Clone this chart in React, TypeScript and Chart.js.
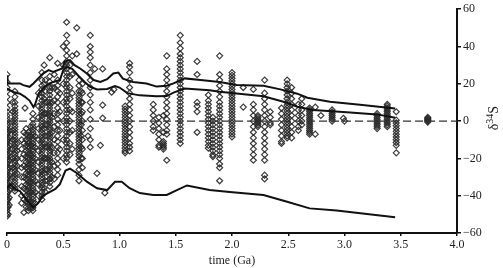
import React, { useEffect, useRef } from 'react';
import { Chart, registerables } from 'chart.js';

Chart.register(...registerables);

// x-axis ticks (Ga) and y-axis ticks (permil)
const xTickValues = [0, 0.5, 1.0, 1.5, 2.0, 2.5, 3.0, 3.5, 4.0];
const yTickValues = [-60, -40, -20, 0, 20, 40, 60];

// Measured δ34S values, grouped in columns by age (Ga)
const columnAges = [
  0.0, 0.01, 0.02, 0.05, 0.07, 0.09, 0.13, 0.15, 0.17, 0.19, 0.21, 0.23, 0.25, 0.28, 0.31, 0.33, 0.34,
  0.36, 0.38, 0.4, 0.42, 0.45, 0.47, 0.5, 0.53, 0.56, 0.58, 0.62, 0.64, 0.66, 0.67, 0.74,
  1.05, 1.09, 1.3, 1.35, 1.39, 1.42, 1.54,
  1.69, 1.79, 1.83, 1.89, 2.0, 2.19, 2.23, 2.29, 2.34, 2.44, 2.49, 2.53, 2.59,
  2.62, 2.69, 2.89, 3.29, 3.38, 3.46, 3.74,
];
const columnValues = [
  [25, 21, 18, 16, 13, 10, 7, 5, 3, 1.5, 0, -1.5, -3, -4.5, -6, -7.5, -9, -10.5, -12, -13.5, -15, -16.5, -18, -19.5, -21, -22.5, -24, -25.5, -27, -28.5, -30, -31.5, -33, -34.5, -36, -37.5, -39, -40.5, -42, -43.5, -45, -46.5, -48, -49.5, -51],
  [-2, -6, -10, -14, -18, -22, -26, -30, -34, -38, -42, -46, -50],
  [-5, -9, -13, -17, -21, -25, -29, -33, -37, -41, -45],
  [10, 5, 0, -5, -10, -15, -20, -25, -30, -35],
  [16, 13, 10, 8, 6, 4.5, 3, 1.5, 0, -1.5, -3, -4.5, -6, -7.5, -9, -10.5, -12, -13.5, -15, -16.5, -18, -19.5, -21, -22.5, -24, -25.5, -27, -28.5, -30, -31.5, -33, -34.5, -36, -37.5],
  [-12, -16, -20, -24, -28],
  [-10, -15, -20, -25, -30, -35, -40, -44],
  [-6, -12, -18, -24, -30, -36, -42],
  [-4, -7, -10, -13, -16, -19, -22, -25, -28, -31, -34, -37, -40, -43, -46],
  [-6, -7.5, -9, -10.5, -12, -13.5, -15, -16.5, -18, -19.5, -21, -22.5, -24, -25.5, -27, -28.5, -30, -31.5, -33, -34.5, -36, -37.5, -39, -40.5, -42, -43.5, -45, -46.5, -48],
  [-3, -8, -13, -18, -23, -28, -33, -38, -43, -47],
  [4, 1, -1.5, -3, -4.5, -6, -7.5, -9, -10.5, -12, -13.5, -15, -16.5, -18, -19.5, -21, -22.5, -24, -25.5, -27, -28.5, -30, -31.5, -33, -34.5, -36, -37.5, -39, -40.5, -42, -43.5, -45, -46.5, -48],
  [-8, -14, -20, -26, -32, -38, -44],
  [15, 8, 2, -4, -10, -16, -22, -28, -34, -40],
  [26, 22, 19, 17, 15, 13, 11, 9, 7.5, 6, 4.5, 3, 1.5, 0, -1.5, -3, -4.5, -6, -7.5, -9, -10.5, -12, -13.5, -15, -16.5, -18, -19.5, -21, -22.5, -24, -25.5, -27, -28.5, -30, -31.5, -33, -34.5, -36, -38, -40, -42],
  [30, 20, 12, 4, -4, -12, -20, -28, -36],
  [22, 16, 10, 4, -2, -8, -14, -20, -26, -32, -38],
  [10, 4, -2, -8, -14, -20, -26, -32],
  [34, 24, 21, 18, 16, 14, 12, 10, 8.5, 7, 5.5, 4, 2.5, 1, -0.5, -2, -3.5, -5, -6.5, -8, -9.5, -11, -12.5, -14, -15.5, -17, -18.5, -20, -21.5, -23, -24.5, -26, -27.5, -29, -31, -33, -35],
  [18, 10, 2, -6, -14, -22, -30],
  [25, 18, 11, 4, -3, -10, -17, -24, -31],
  [31, 22, 19, 16, 13, 10, 7, 4, 1, -2, -5, -8, -11, -14, -17, -20, -23, -26, -29],
  [15, 5, -5, -15],
  [40, 30, 20, 10, 0, -10, -20],
  [53, 46, 42, 38, 35, 32, 30, 28, 26, 24, 22, 20, 18, 16, 14, 12, 10, 8, 6, 4, 2, 0, -2, -4, -6, -8, -10, -12, -14, -16, -18, -20, -22],
  [30, 24, 18, 12, 6, 0, -6, -12, -18],
  [35, 25, 15, 5, -5, -15],
  [50, 36],
  [22, 19, 16, 14, 12.5, 11, 9.5, 8, 6.5, 5, 3.5, 2, 0.5, -1, -2.5, -4, -5.5, -7, -8.5, -10, -11.5, -13, -14.5, -16, -17.5, -19, -21, -23, -26, -29, -32],
  [16, 10, 4, -2, -8, -14, -20],
  [20, 15, 10, 5, 0, -5, -10, -15, -20, -25],
  [46, 40, 37, 34, 30, 26, 22, 18, 14, 10, 6, 1, -4, -10, -14],
  [8, 6.5, 5, 3.5, 2, 0.5, -1, -2.5, -4, -5.5, -7, -8.5, -10, -11.5, -13, -14.5, -16, -17],
  [31, 29, 26, 22, 18, 15, 12, 9, 6, 3, 0, -3, -6, -9, -12, -14, -16],
  [9, 6, 3, 0, -3, -5],
  [2, -1, -4, -7, -10, -13, -14],
  [3, -6, -11, -12, -13, -14, -15],
  [35, 28, 25, 22, 19, 16, 13, 10, 7, 4, 1, -2, -5, -7, -21],
  [46, 42, 39, 36, 34, 32, 30, 28, 26, 24, 22, 20, 18, 16, 14, 12, 10, 8, 6, 4, 2, 0, -2, -4, -6, -8, -10, -12],
  [32, 25, 10, 8, 5, -6],
  [14, 11, 9, 7, 5, 3, 1, -1, -3, -5, -7, -9, -11, -13, -14.5],
  [2, 0, -2, -4, -6, -8, -10, -12, -14, -16, -18, -19],
  [35, 25, 22, 19, 16, 13, 10, 8, 6, 4, 2, 0, -2, -4, -6, -8, -10, -12, -14, -16, -18, -20, -23, -25, -32],
  [26, 24.5, 23, 21.5, 20, 18.5, 17, 15.5, 14, 12.5, 11, 9.5, 8, 6.5, 5, 3.5, 2, 0.5, -1, -2.5, -4, -5.5, -7, -8.5],
  [17, 9, 6, 3, 0, -3, -6, -9, -12, -15, -18, -21],
  [3, 2, 1, 0, -1, -2, -3],
  [22, 15, 12, 9, 6, 3, 0, -3, -6, -9, -12, -15, -18, -21, -29, -31],
  [5, 2, -1, -2],
  [7, 4, 1, -2, -5, -8, -11, -12],
  [22, 20, 18, 16, 14, 12, 10, 8.5, 7, 5.5, 4, 2.5, 1, -0.5, -2, -3.5, -5, -6.5, -8, -9],
  [18, 15, 12, 9, 6, 3, 0, -3, -6, -9],
  [9, 6, 3, 0, -3, -5],
  [12, 9, 6, 3, 0, -2],
  [7, 6, 5, 4, 3, 2, 1, 0, -1, -2, -3, -4, -5, -6, -7],
  [6, 5, 4, 3, 2, 1, 0],
  [4, 3, 2, 1, 0, -1, -2, -3, -4],
  [9, 8, 7, 6, 5, 4, 3, 2, 1, 0, -1, -2, -3],
  [5, 0.5, -1, -2.5, -4, -5.5, -7, -8.5, -10, -11.5, -13, -17],
  [2, 1.5, 1, 0.5, 0, -0.5],
];

// Isolated measurements
const isolatedAges = [0.16, 0.15, 0.72, 0.78, 0.8, 0.83, 0.85, 0.85, 0.85, 0.87, 0.93, 0.95, 2.1, 2.1, 2.74, 2.74, 2.79, 2.99, 3.0];
const isolatedValues = [7, -49, -8, 28, -28, -13, 28, 8.6, 1.6, -38.5, 15.5, 17, 18, 7.5, 7.5, -7, 3, 1.5, 0];

// Model envelope curves
const upperAges = [0, 0.005, 0.115, 0.145, 0.2, 0.235, 0.32, 0.37, 0.41, 0.49, 0.515, 0.56, 0.6, 0.65, 0.71, 0.77, 0.83, 0.89, 0.945, 0.99, 1.03, 1.12, 1.24, 1.33, 1.42, 1.48, 1.58, 1.72, 1.89, 2.04, 2.28, 2.43, 2.58, 2.67, 2.87, 3.16, 3.45];
const upperValues = [24.6, 20.2, 20.2, 19.3, 18.4, 20.2, 25.5, 27.3, 26.4, 28.2, 32, 32.7, 30, 28.2, 25.5, 22, 21, 22.5, 25.5, 26, 22.8, 21, 20.2, 18.5, 19, 20.2, 22.9, 22, 21, 19.3, 19, 17, 14.7, 12.5, 10.4, 8.6, 6.8];
const middleAges = [0, 0.056, 0.115, 0.16, 0.2, 0.235, 0.25, 0.28, 0.32, 0.37, 0.41, 0.47, 0.5, 0.53, 0.58, 0.63, 0.69, 0.74, 0.8, 0.89, 0.96, 1.0, 1.07, 1.18, 1.33, 1.42, 1.48, 1.58, 1.8, 1.89, 2.04, 2.28, 2.49, 2.58, 2.72, 3.02, 3.29, 3.45];
const middleValues = [17.4, 15.6, 14.7, 13, 11, 7.5, 9, 14.7, 17.4, 20, 21, 22, 27.3, 29, 28, 24.6, 21, 18.4, 17, 17.2, 18.8, 18, 15, 13.8, 13.3, 13.4, 15.3, 17.5, 16.6, 15.7, 14.8, 13.3, 9.8, 7.7, 6, 4.8, 3.6, 1.8];
const lowerAges = [0, 0.03, 0.07, 0.115, 0.145, 0.18, 0.235, 0.28, 0.32, 0.37, 0.43, 0.47, 0.52, 0.56, 0.62, 0.71, 0.8, 0.89, 0.96, 1.02, 1.09, 1.18, 1.3, 1.42, 1.51, 1.6, 1.8, 1.98, 2.28, 2.49, 2.69, 2.93, 3.45];
const lowerValues = [-36, -34, -36.4, -37.5, -40, -42.8, -46.4, -43.7, -40, -38.4, -36.4, -33.8, -26.5, -25.5, -27.8, -32.5, -36, -37, -32.5, -32.5, -36, -38.6, -39.6, -39.6, -37, -34.5, -36.9, -38, -39.6, -43.2, -46.8, -48, -51.5];

// Zero reference line
const zeroLineAges = [0, 4.0];
const zeroLineValues = [0, 0];

const FONT_FAMILY = '"Liberation Serif", "DejaVu Serif", serif';

const toPoints = (xs: number[], ys: number[]) => xs.map((x, i) => ({ x, y: ys[i] }));

const yTitlePlugin = {
  id: 'yTitle',
  afterDraw(chart: any) {
    const ctx = chart.ctx;
    const y0 = chart.scales.y.getPixelForValue(0);
    ctx.save();
    ctx.translate(chart.width - 9, y0 - 3);
    ctx.rotate(-Math.PI / 2);
    ctx.fillStyle = '#222';
    ctx.textBaseline = 'middle';
    ctx.textAlign = 'left';
    const big = `14px ${FONT_FAMILY}`;
    const small = `10px ${FONT_FAMILY}`;
    ctx.font = big;
    const wD = ctx.measureText('δ').width;
    const wS = ctx.measureText('S').width;
    ctx.font = small;
    const w34 = ctx.measureText('34').width;
    let x = -(wD + w34 + wS) / 2;
    ctx.font = big;
    ctx.fillText('δ', x, 0);
    x += wD;
    ctx.font = small;
    ctx.fillText('34', x, -4);
    x += w34;
    ctx.font = big;
    ctx.fillText('S', x, 0);
    ctx.restore();
  },
};

export default function App() {
  const canvasRef = useRef<HTMLCanvasElement | null>(null);

  useEffect(() => {
    document.body.style.margin = '0';
    const canvas = canvasRef.current;
    if (!canvas) return;

    const scatterPoints: { x: number; y: number }[] = [];
    columnAges.forEach((age, i) => {
      columnValues[i].forEach((v) => scatterPoints.push({ x: age, y: v }));
    });
    isolatedAges.forEach((age, i) => scatterPoints.push({ x: age, y: isolatedValues[i] }));

    const lineStyle = {
      showLine: true,
      pointRadius: 0,
      borderColor: '#111',
      borderWidth: 2,
      tension: 0,
      fill: false,
    };

    const chart = new Chart(canvas, {
      type: 'scatter',
      data: {
        datasets: [
          { ...lineStyle, data: toPoints(upperAges, upperValues) },
          { ...lineStyle, data: toPoints(middleAges, middleValues) },
          { ...lineStyle, data: toPoints(lowerAges, lowerValues) },
          {
            showLine: true,
            pointRadius: 0,
            borderColor: '#333',
            borderWidth: 1.3,
            borderDash: [8, 4],
            data: toPoints(zeroLineAges, zeroLineValues),
          },
          {
            data: scatterPoints,
            pointStyle: 'rectRot',
            pointRadius: 3,
            pointBorderWidth: 1.2,
            pointBorderColor: 'rgba(40,40,40,0.9)',
            pointBackgroundColor: 'rgba(255,255,255,0)',
            showLine: false,
          },
        ],
      } as any,
      options: {
        animation: false,
        responsive: false,
        events: [],
        layout: { padding: { left: 7, top: 9, right: 0, bottom: 0 } },
        plugins: {
          legend: { display: false },
          tooltip: { enabled: false },
        },
        scales: {
          x: {
            type: 'linear',
            position: 'bottom',
            min: 0,
            max: 4,
            afterBuildTicks: (s: any) => {
              s.ticks = xTickValues.map((v) => ({ value: v }));
            },
            afterFit: (s: any) => {
              s.height = 35;
            },
            ticks: {
              autoSkip: false,
              maxRotation: 0,
              padding: 2,
              color: '#222',
              font: { family: FONT_FAMILY, size: 12 },
              callback: (v: any) => (Number(v) === 0 ? '0' : Number(v).toFixed(1)),
            },
            grid: { drawOnChartArea: false, drawTicks: true, tickLength: 3, color: '#111', lineWidth: 1.5 },
            border: { display: true, color: '#111', width: 2 },
            title: {
              display: true,
              text: 'time (Ga)',
              color: '#222',
              font: { family: FONT_FAMILY, size: 12 },
              padding: { top: 0, bottom: 0 },
            },
          },
          y: {
            type: 'linear',
            position: 'right',
            min: -60,
            max: 60,
            afterBuildTicks: (s: any) => {
              s.ticks = yTickValues.map((v) => ({ value: v }));
            },
            afterFit: (s: any) => {
              s.width = 46;
            },
            ticks: {
              padding: 2,
              color: '#222',
              font: { family: FONT_FAMILY, size: 12 },
              callback: (v: any) => (Number(v) < 0 ? '\u2212' + Math.abs(Number(v)) : String(v)),
            },
            grid: { drawOnChartArea: false, drawTicks: true, tickLength: 4, color: '#111', lineWidth: 1.5 },
            border: { display: true, color: '#111', width: 2 },
          },
        },
      } as any,
      plugins: [yTitlePlugin],
    });

    return () => chart.destroy();
  }, []);

  return (
    <div style={{ width: 503, height: 268, background: '#fff' }}>
      <canvas ref={canvasRef} width={503} height={268} style={{ display: 'block', width: 503, height: 268 }} />
    </div>
  );
}
